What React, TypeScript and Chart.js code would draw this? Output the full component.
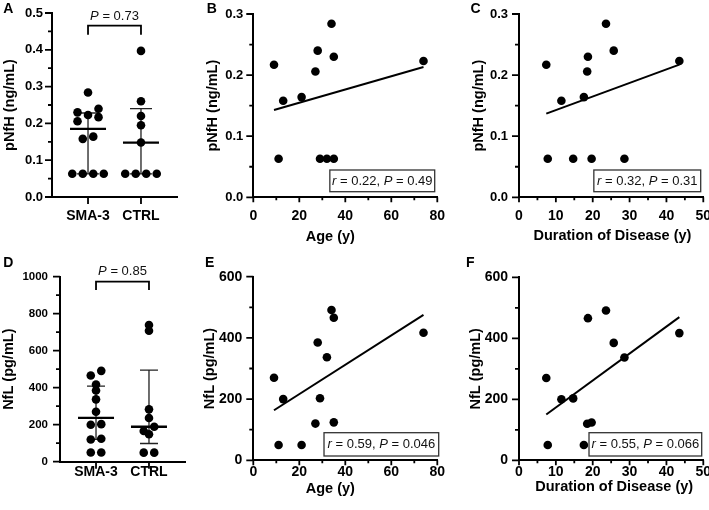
import React, { useEffect, useRef } from "react";
import { Chart, registerables } from "chart.js";

Chart.register(...registerables);

const FONT = '"Liberation Sans", Arial, Helvetica, sans-serif';
Chart.defaults.font.family = FONT;
Chart.defaults.color = "#000";

// ---------------- data ----------------
const groupLabels = ["SMA-3", "CTRL"];
const ageYears = [9, 11, 13, 21, 27, 28, 29, 32, 34, 35, 35, 74];
const durationYears = [7.4, 7.8, 11.5, 17.6, 18.5, 25.7, 14.7, 28.6, 23.6, 19.7, 18.7, 43.5];
const pnfhSMA3 = [0.217, 0.063, 0.158, 0.164, 0.206, 0.24, 0.063, 0.063, 0.284, 0.063, 0.23, 0.223];
const pnfhCTRL = [0.397, 0.26, 0.22, 0.195, 0.148, 0.063, 0.063, 0.063, 0.063];
const nflSMA3 = [270, 50, 200, 50, 120, 385, 203, 337, 491, 124, 466, 417];
const nflCTRL = [739, 708, 283, 236, 189, 166, 148, 49, 49];

const pnfhGroupTicks = [0, 0.1, 0.2, 0.3, 0.4, 0.5];
const pnfhCorrTicks = [0, 0.1, 0.2, 0.3];
const nflGroupTicks = [0, 200, 400, 600, 800, 1000];
const nflCorrTicks = [0, 200, 400, 600];
const ageTicks = [0, 20, 40, 60, 80];
const durationTicks = [0, 10, 20, 30, 40, 50];

const groupPValues = ["0.73", "0.85"];
const corrR = ["0.22", "0.32", "0.59", "0.55"];
const corrP = ["0.49", "0.31", "0.046", "0.066"];

const pnfhTitle = "pNfH (ng/mL)";
const nflTitle = "NfL (pg/mL)";
const ageTitle = "Age (y)";
const durationTitle = "Duration of Disease (y)";
const panelLetters = ["A", "B", "C", "D", "E", "F"];

// ---------------- helpers ----------------
const GX_MIN = 0.32;
const GX_MAX = 2.68;

function quantile(values: number[], p: number) {
  const s = [...values].sort((a, b) => a - b);
  const n = s.length;
  const pos = (n + 1) * p;
  const lo = Math.floor(pos);
  const frac = pos - lo;
  if (lo < 1) return s[0];
  if (lo >= n) return s[n - 1];
  return s[lo - 1] + frac * (s[lo] - s[lo - 1]);
}

function regression(xs: number[], ys: number[]) {
  const n = xs.length;
  const mx = xs.reduce((a, b) => a + b, 0) / n;
  const my = ys.reduce((a, b) => a + b, 0) / n;
  let sxy = 0;
  let sxx = 0;
  for (let i = 0; i < n; i++) {
    sxy += (xs[i] - mx) * (ys[i] - my);
    sxx += (xs[i] - mx) * (xs[i] - mx);
  }
  const b = sxy / sxx;
  const a = my - b * mx;
  const x0 = Math.min(...xs);
  const x1 = Math.max(...xs);
  return [
    { x: x0, y: a + b * x0 },
    { x: x1, y: a + b * x1 },
  ];
}

function midpoints(t: number[]) {
  const out: number[] = [];
  for (let i = 0; i < t.length - 1; i++) out.push((t[i] + t[i + 1]) / 2);
  return out;
}

// beeswarm offsets in pixels (layout only)
function swarm(values: number[], pxPerValue: number, rowPx: number, spacing: number, dot: number) {
  const idx = values.map((_, i) => i).sort((a, b) => values[b] - values[a]);
  const rows: number[][] = [];
  for (const i of idx) {
    const last = rows[rows.length - 1];
    if (last && (values[last[0]] - values[i]) * pxPerValue < rowPx) last.push(i);
    else rows.push([i]);
  }
  const out = new Array(values.length).fill(0);
  const placed: { x: number; y: number }[] = [];
  for (const row of rows) {
    const n = row.length;
    const half = (n - 1) / 2;
    const slots: number[] = [];
    for (let k = half; k > 0.01; k -= 1) slots.push(k, -k);
    if (n % 2 === 1) slots.push(0);
    const tryK = (k: number) =>
      row.map((i, j) => ({ i, x: slots[j] * spacing * k, y: values[i] * pxPerValue }));
    let cand = tryK(1);
    if (n > 1) {
      const hit = cand.some((c) => placed.some((p) => Math.hypot(p.x - c.x, p.y - c.y) < dot));
      if (hit) cand = tryK(2);
    }
    for (const c of cand) {
      out[c.i] = c.x;
      placed.push({ x: c.x, y: c.y });
    }
  }
  return out;
}

function drawRich(ctx: CanvasRenderingContext2D, segs: [string, boolean][], cx: number, cy: number, size: number) {
  const fonts = segs.map(([, it]) => `${it ? "italic " : ""}${size}px ${FONT}`);
  let total = 0;
  const widths = segs.map(([t], i) => {
    ctx.font = fonts[i];
    const w = ctx.measureText(t).width;
    total += w;
    return w;
  });
  let x = cx - total / 2;
  ctx.textBaseline = "middle";
  ctx.textAlign = "left";
  segs.forEach(([t], i) => {
    ctx.font = fonts[i];
    ctx.fillText(t, x, cy);
    x += widths[i];
  });
  return total;
}

function measureRich(ctx: CanvasRenderingContext2D, segs: [string, boolean][], size: number) {
  let total = 0;
  segs.forEach(([t, it]) => {
    ctx.font = `${it ? "italic " : ""}${size}px ${FONT}`;
    total += ctx.measureText(t).width;
  });
  return total;
}

function drawAxisTicks(
  chart: any,
  xMajor: number[],
  xMinor: number[],
  xLen: [number, number],
  yMajor: number[],
  yMinor: number[],
  yLen: [number, number]
) {
  const ctx = chart.ctx as CanvasRenderingContext2D;
  const { left, bottom } = chart.chartArea;
  const xs = chart.scales.x;
  const ys = chart.scales.y;
  ctx.save();
  ctx.strokeStyle = "#000";
  ctx.lineWidth = 1.8;
  ctx.beginPath();
  xMajor.forEach((v) => {
    const p = xs.getPixelForValue(v);
    ctx.moveTo(p, bottom);
    ctx.lineTo(p, bottom + xLen[0]);
  });
  xMinor.forEach((v) => {
    const p = xs.getPixelForValue(v);
    ctx.moveTo(p, bottom);
    ctx.lineTo(p, bottom + xLen[1]);
  });
  yMajor.forEach((v) => {
    const p = ys.getPixelForValue(v);
    ctx.moveTo(left - yLen[0], p);
    ctx.lineTo(left, p);
  });
  yMinor.forEach((v) => {
    const p = ys.getPixelForValue(v);
    ctx.moveTo(left - yLen[1], p);
    ctx.lineTo(left, p);
  });
  ctx.stroke();
  ctx.restore();
}

type Geo = {
  left: number;
  top: number;
  w: number;
  h: number;
  padTop: number;
  padRight: number;
  yWidth: number;
  xHeight: number;
  yTitlePad: number;
  yTickPad: number;
  xTickPad: number;
  yFont: number;
  xFont: number;
};

function makeScale(o: {
  ticks: number[];
  min: number;
  max: number;
  fmt: (v: number) => string;
  size: number;
  pad: number;
  axis: "x" | "y";
  fit: number;
  title?: string;
  titlePad?: number;
}) {
  return {
    type: "linear",
    min: o.min,
    max: o.max,
    grid: { display: false, drawTicks: false },
    border: { display: true, color: "#000", width: 2 },
    ticks: {
      font: { size: o.size, weight: "bold", family: FONT },
      color: "#000",
      padding: o.pad,
      autoSkip: false,
      maxRotation: 0,
      minRotation: 0,
      callback: (v: any) => o.fmt(Number(v)),
    },
    title: o.title
      ? {
          display: true,
          text: o.title,
          color: "#000",
          font: { size: 14.5, weight: "bold", family: FONT },
          padding: { top: o.titlePad || 0, bottom: 0 },
        }
      : { display: false },
    afterBuildTicks: (s: any) => {
      s.ticks = o.ticks.map((v) => ({ value: v }));
    },
    afterFit: (s: any) => {
      if (o.axis === "x") s.height = o.fit;
      else s.width = o.fit;
      s.paddingLeft = 0;
      s.paddingRight = 0;
      s.paddingTop = 0;
      s.paddingBottom = 0;
    },
  };
}

const dotStyle = {
  backgroundColor: "#000",
  borderColor: "#000",
  borderWidth: 0,
  pointRadius: 4.3,
  pointHoverRadius: 4.3,
};

function groupConfig(spec: {
  geo: Geo;
  sma: number[];
  ctrl: number[];
  ticks: number[];
  fmt: (v: number) => string;
  title: string;
  pValue: string;
  pxPerValue: number;
  rowPx: number;
  capHalf: number;
  bracket: { line: number; end: number; text: number };
}) {
  const { geo } = spec;
  const pxPerX = (geo.w - geo.padRight - geo.yWidth) / (GX_MAX - GX_MIN);
  const groups = [spec.sma, spec.ctrl];
  const datasets = groups.map((g, gi) => {
    const off = swarm(g, spec.pxPerValue, spec.rowPx, 10.5, 8.5);
    return {
      label: groupLabels[gi],
      data: g.map((v, i) => ({ x: gi + 1 + off[i] / pxPerX, y: v })),
      ...dotStyle,
    };
  });
  const stats = groups.map((g) => ({ med: quantile(g, 0.5), q1: quantile(g, 0.25), q3: quantile(g, 0.75) }));
  const yMax = spec.ticks[spec.ticks.length - 1];

  const plugin = {
    id: "groupDecor",
    beforeDatasetsDraw(chart: any) {
      const ctx = chart.ctx as CanvasRenderingContext2D;
      const xs = chart.scales.x;
      const ys = chart.scales.y;
      ctx.save();
      stats.forEach((s, gi) => {
        const cx = xs.getPixelForValue(gi + 1);
        const y1 = ys.getPixelForValue(s.q1);
        const y3 = ys.getPixelForValue(s.q3);
        const ym = ys.getPixelForValue(s.med);
        ctx.strokeStyle = "#222";
        ctx.lineWidth = 1.3;
        ctx.beginPath();
        ctx.moveTo(cx, y1);
        ctx.lineTo(cx, y3);
        ctx.moveTo(cx - spec.capHalf, y1);
        ctx.lineTo(cx + spec.capHalf, y1);
        ctx.moveTo(cx - spec.capHalf, y3);
        ctx.lineTo(cx + spec.capHalf, y3);
        ctx.stroke();
        ctx.strokeStyle = "#000";
        ctx.lineWidth = 2.3;
        ctx.beginPath();
        ctx.moveTo(cx - 18, ym);
        ctx.lineTo(cx + 18, ym);
        ctx.stroke();
      });
      ctx.restore();
    },
    afterDraw(chart: any) {
      const ctx = chart.ctx as CanvasRenderingContext2D;
      drawAxisTicks(chart, [1, 2], [], [7, 4], spec.ticks, midpoints(spec.ticks), [7, 4]);
      const xs = chart.scales.x;
      const top = chart.chartArea.top;
      const x1 = xs.getPixelForValue(1);
      const x2 = xs.getPixelForValue(2);
      ctx.save();
      ctx.strokeStyle = "#000";
      ctx.lineWidth = 1.8;
      ctx.beginPath();
      ctx.moveTo(x1, top + spec.bracket.end);
      ctx.lineTo(x1, top + spec.bracket.line);
      ctx.lineTo(x2, top + spec.bracket.line);
      ctx.lineTo(x2, top + spec.bracket.end);
      ctx.stroke();
      ctx.fillStyle = "#111";
      drawRich(
        ctx,
        [
          ["P", true],
          [" = " + spec.pValue, false],
        ],
        (x1 + x2) / 2,
        top + spec.bracket.text,
        13
      );
      ctx.restore();
    },
  };

  return {
    type: "scatter",
    data: { datasets },
    options: {
      responsive: false,
      animation: false,
      devicePixelRatio: 1,
      events: [],
      layout: { padding: { top: geo.padTop, right: geo.padRight, bottom: 0, left: 0 } },
      plugins: { legend: { display: false }, tooltip: { enabled: false } },
      scales: {
        x: makeScale({
          ticks: [1, 2],
          min: GX_MIN,
          max: GX_MAX,
          fmt: (v) => groupLabels[Math.round(v) - 1] || "",
          size: geo.xFont,
          pad: geo.xTickPad,
          axis: "x",
          fit: geo.xHeight,
        }),
        y: makeScale({
          ticks: spec.ticks,
          min: 0,
          max: yMax,
          fmt: spec.fmt,
          size: geo.yFont,
          pad: geo.yTickPad,
          axis: "y",
          fit: geo.yWidth,
          title: spec.title,
          titlePad: geo.yTitlePad,
        }),
      },
    },
    plugins: [plugin],
  };
}

function corrConfig(spec: {
  geo: Geo;
  xs: number[];
  ys: number[];
  xTicks: number[];
  yTicks: number[];
  yFmt: (v: number) => string;
  yTitle: string;
  xTitle: string;
  xTitleDx: number;
  xTitleDy: number;
  r: string;
  p: string;
  box: { right: number; bottom: number; h: number; padX: number };
}) {
  const { geo } = spec;
  const fit = regression(spec.xs, spec.ys);
  const plugin = {
    id: "corrDecor",
    afterDraw(chart: any) {
      const ctx = chart.ctx as CanvasRenderingContext2D;
      const ca = chart.chartArea;
      drawAxisTicks(
        chart,
        spec.xTicks,
        midpoints(spec.xTicks),
        [5, 3],
        spec.yTicks,
        midpoints(spec.yTicks),
        [7, 4]
      );
      ctx.save();
      // x-axis title
      ctx.fillStyle = "#000";
      ctx.font = `bold 14.5px ${FONT}`;
      ctx.textAlign = "center";
      ctx.textBaseline = "middle";
      ctx.fillText(spec.xTitle, (ca.left + ca.right) / 2 + spec.xTitleDx, ca.bottom + spec.xTitleDy);
      // correlation box
      const segs: [string, boolean][] = [
        ["r", true],
        [" = " + spec.r + ", ", false],
        ["P", true],
        [" = " + spec.p, false],
      ];
      const tw = measureRich(ctx, segs, 13);
      const bw = tw + 2 * spec.box.padX;
      const bx1 = ca.right + spec.box.right;
      const by2 = ca.bottom + spec.box.bottom;
      const bx0 = bx1 - bw;
      const by0 = by2 - spec.box.h;
      ctx.fillStyle = "#fff";
      ctx.fillRect(bx0, by0, bw, spec.box.h);
      ctx.strokeStyle = "#333";
      ctx.lineWidth = 1.3;
      ctx.strokeRect(bx0, by0, bw, spec.box.h);
      ctx.fillStyle = "#111";
      drawRich(ctx, segs, (bx0 + bx1) / 2, (by0 + by2) / 2 + 0.5, 13);
      ctx.restore();
    },
  };
  return {
    type: "scatter",
    data: {
      datasets: [
        {
          type: "line",
          label: "fit",
          data: fit,
          borderColor: "#000",
          borderWidth: 2,
          pointRadius: 0,
          fill: false,
          tension: 0,
        },
        {
          label: "SMA-3",
          data: spec.xs.map((x, i) => ({ x, y: spec.ys[i] })),
          ...dotStyle,
        },
      ],
    },
    options: {
      responsive: false,
      animation: false,
      devicePixelRatio: 1,
      events: [],
      layout: { padding: { top: geo.padTop, right: geo.padRight, bottom: 0, left: 0 } },
      plugins: { legend: { display: false }, tooltip: { enabled: false } },
      scales: {
        x: makeScale({
          ticks: spec.xTicks,
          min: spec.xTicks[0],
          max: spec.xTicks[spec.xTicks.length - 1],
          fmt: (v) => String(v),
          size: geo.xFont,
          pad: geo.xTickPad,
          axis: "x",
          fit: geo.xHeight,
        }),
        y: makeScale({
          ticks: spec.yTicks,
          min: spec.yTicks[0],
          max: spec.yTicks[spec.yTicks.length - 1],
          fmt: spec.yFmt,
          size: geo.yFont,
          pad: geo.yTickPad,
          axis: "y",
          fit: geo.yWidth,
          title: spec.yTitle,
          titlePad: geo.yTitlePad,
        }),
      },
    },
    plugins: [plugin],
  };
}

// ---------------- layout ----------------
const geoA: Geo = { left: 0, top: 0, w: 230, h: 250, padTop: 13, padRight: 53, yWidth: 52, xHeight: 53, yTitlePad: 1.3, yTickPad: 9, xTickPad: 10.5, yFont: 13, xFont: 14 };
const geoB: Geo = { left: 202, top: 0, w: 268, h: 250, padTop: 14, padRight: 32.7, yWidth: 51.3, xHeight: 52.7, yTitlePad: 2.6, yTickPad: 10, xTickPad: 10, yFont: 13, xFont: 14 };
const geoC: Geo = { left: 468, top: 0, w: 241, h: 250, padTop: 14, padRight: 5.7, yWidth: 51, xHeight: 52.7, yTitlePad: 2.3, yTickPad: 11, xTickPad: 10, yFont: 13, xFont: 14 };
const geoD: Geo = { left: 0, top: 250, w: 230, h: 260, padTop: 26.7, padRight: 45, yWidth: 60, xHeight: 48.3, yTitlePad: 0.5, yTickPad: 12, xTickPad: 2, yFont: 11.5, xFont: 14 };
const geoE: Geo = { left: 200, top: 250, w: 266, h: 260, padTop: 26.7, padRight: 28.7, yWidth: 53.3, xHeight: 49.7, yTitlePad: 1.3, yTickPad: 11, xTickPad: 3, yFont: 14, xFont: 14 };
const geoF: Geo = { left: 466, top: 250, w: 243, h: 260, padTop: 27.3, padRight: 5.7, yWidth: 53, xHeight: 49.7, yTitlePad: 1.3, yTickPad: 11, xTickPad: 3, yFont: 14, xFont: 14 };

const fmt1 = (v: number) => v.toFixed(1);
const fmt0 = (v: number) => String(Math.round(v));

const builders: { geo: Geo; build: () => any }[] = [
  {
    geo: geoA,
    build: () =>
      groupConfig({
        geo: geoA,
        sma: pnfhSMA3,
        ctrl: pnfhCTRL,
        ticks: pnfhGroupTicks,
        fmt: fmt1,
        title: pnfhTitle,
        pValue: groupPValues[0],
        pxPerValue: 368,
        rowPx: 6.5,
        capHalf: 11,
        bracket: { line: 12.7, end: 21.7, text: 3 },
      }),
  },
  {
    geo: geoB,
    build: () =>
      corrConfig({
        geo: geoB,
        xs: ageYears,
        ys: pnfhSMA3,
        xTicks: ageTicks,
        yTicks: pnfhCorrTicks,
        yFmt: fmt1,
        yTitle: pnfhTitle,
        xTitle: ageTitle,
        xTitleDx: -15,
        xTitleDy: 39.5,
        r: corrR[0],
        p: corrP[0],
        box: { right: -2.6, bottom: -5.6, h: 21.7, padX: 2.2 },
      }),
  },
  {
    geo: geoC,
    build: () =>
      corrConfig({
        geo: geoC,
        xs: durationYears,
        ys: pnfhSMA3,
        xTicks: durationTicks,
        yTicks: pnfhCorrTicks,
        yFmt: fmt1,
        yTitle: pnfhTitle,
        xTitle: durationTitle,
        xTitleDx: 1.3,
        xTitleDy: 39,
        r: corrR[1],
        p: corrP[1],
        box: { right: -2.6, bottom: -5.6, h: 21.7, padX: 3.2 },
      }),
  },
  {
    geo: geoD,
    build: () =>
      groupConfig({
        geo: geoD,
        sma: nflSMA3,
        ctrl: nflCTRL,
        ticks: nflGroupTicks,
        fmt: fmt0,
        title: nflTitle,
        pValue: groupPValues[1],
        pxPerValue: 0.185,
        rowPx: 5.5,
        capHalf: 9,
        bracket: { line: 5, end: 13.3, text: -5 },
      }),
  },
  {
    geo: geoE,
    build: () =>
      corrConfig({
        geo: geoE,
        xs: ageYears,
        ys: nflSMA3,
        xTicks: ageTicks,
        yTicks: nflCorrTicks,
        yFmt: fmt0,
        yTitle: nflTitle,
        xTitle: ageTitle,
        xTitleDx: -15,
        xTitleDy: 28.7,
        r: corrR[2],
        p: corrP[2],
        box: { right: 1.4, bottom: -4.3, h: 23.3, padX: 3.5 },
      }),
  },
  {
    geo: geoF,
    build: () =>
      corrConfig({
        geo: geoF,
        xs: durationYears,
        ys: nflSMA3,
        xTicks: durationTicks,
        yTicks: nflCorrTicks,
        yFmt: fmt0,
        yTitle: nflTitle,
        xTitle: durationTitle,
        xTitleDx: 3,
        xTitleDy: 27,
        r: corrR[3],
        p: corrP[3],
        box: { right: -1.6, bottom: -4.3, h: 23.3, padX: 2.5 },
      }),
  },
];

const letterPos = [
  { left: 3.3, top: 3.3 },
  { left: 206.7, top: 3.3 },
  { left: 470.5, top: 3.3 },
  { left: 3.3, top: 257.3 },
  { left: 205, top: 257.3 },
  { left: 466, top: 257.3 },
];

function ChartCanvas({ geo, build }: { geo: Geo; build: () => any }) {
  const ref = useRef<HTMLCanvasElement | null>(null);
  useEffect(() => {
    if (!ref.current) return;
    const chart = new Chart(ref.current, build());
    return () => chart.destroy();
  }, []);
  return (
    <canvas
      ref={ref}
      width={geo.w}
      height={geo.h}
      style={{ position: "absolute", left: geo.left, top: geo.top, width: geo.w, height: geo.h }}
    />
  );
}

export default function App() {
  return (
    <div
      style={{
        position: "absolute",
        left: 0,
        top: 0,
        width: 709,
        height: 510,
        overflow: "hidden",
        background: "#fff",
      }}
    >
      {builders.map((b, i) => (
        <ChartCanvas key={i} geo={b.geo} build={b.build} />
      ))}
      {panelLetters.map((l, i) => (
        <div
          key={l}
          style={{
            position: "absolute",
            left: letterPos[i].left,
            top: letterPos[i].top - 1.9,
            fontFamily: FONT,
            fontWeight: "bold",
            fontSize: 14,
            lineHeight: "14px",
            color: "#000",
          }}
        >
          {l}
        </div>
      ))}
    </div>
  );
}
